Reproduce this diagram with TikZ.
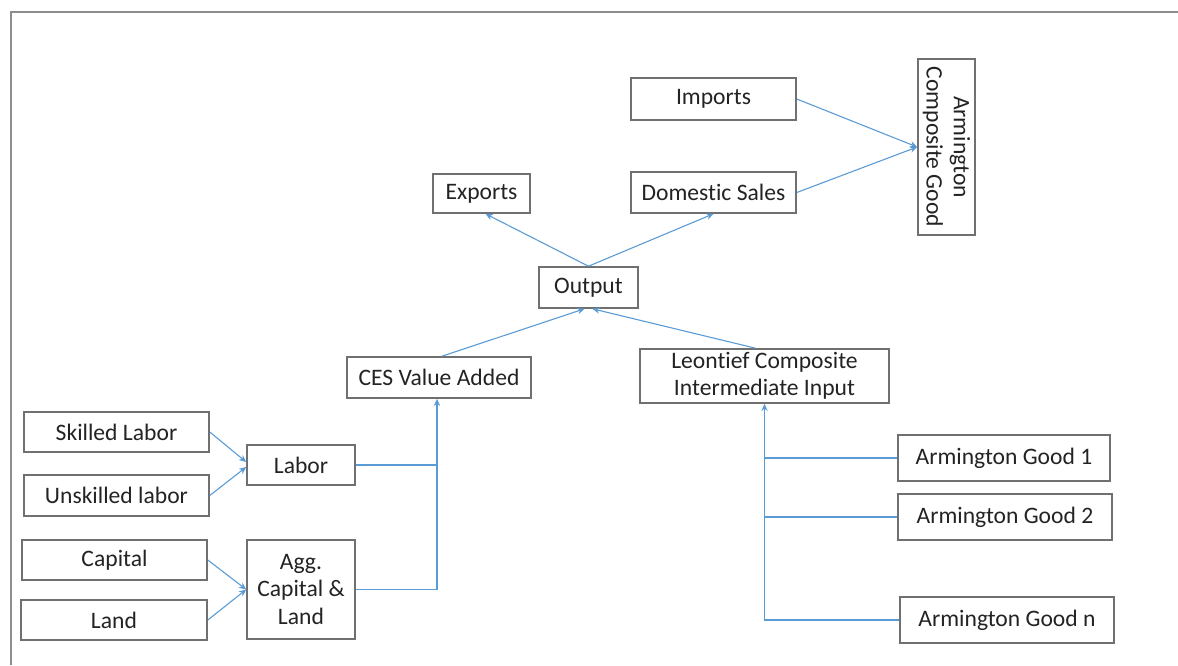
\documentclass[tikz,border=0pt]{standalone}
\usepackage{fontspec}
\setmainfont[Ligatures={NoCommon,NoRare}]{Carlito}
\usetikzlibrary{arrows.meta}
\definecolor{conn}{RGB}{91,155,213}
\definecolor{boxline}{RGB}{112,112,112}
\definecolor{txt}{RGB}{35,35,35}
\tikzset{
  box/.style={draw=boxline, line width=0.8pt, rectangle, inner sep=0pt, align=center,
    text=txt, font=\fontsize{11.8}{13.6}\selectfont},
  conn/.style={draw=conn, line width=0.55pt},
  arr/.style={conn, -{Stealth[length=3.6pt,width=3.2pt]}},
}
\begin{document}
\begin{tikzpicture}[x=0.5pt,y=-0.5pt]
\useasboundingbox (0,0) rectangle (1178,665);
\draw[draw=boxline!80, line width=1pt] (1178,12) -- (11,12) -- (11,665);

\node[box, minimum width=82.5pt, minimum height=21pt] (imp) at (713.5,99) {Imports};
\node[box, minimum width=82.5pt, minimum height=20.5pt] (dom) at (713.5,192.5) {Domestic Sales};
\node[box, minimum width=28.5pt, minimum height=88pt] (arm) at (946.5,147) {};
\node[rotate=-90, text=txt, align=center, font=\fontsize{11.8}{13.6}\selectfont] (armt) at (arm.center) {Armington\\Composite Good};
\node[box, minimum width=48.5pt, minimum height=19.5pt] (exp) at (481.5,193.5) {Exports};
\node[box, minimum width=49.5pt, minimum height=20.5pt] (out) at (588.5,287.5) {Output};
\node[box, minimum width=92pt, minimum height=20.5pt] (ces) at (439,377.5) {CES Value Added};
\node[box, minimum width=124.5pt, minimum height=27pt] (leo) at (764.5,376) {Leont\hbox{}ief Composite\\Intermediate Input};
\node[box, minimum width=92.5pt, minimum height=20pt] (sk) at (116.5,432) {Skilled Labor};
\node[box, minimum width=92.5pt, minimum height=20.5pt] (un) at (116.5,495.5) {Unskilled labor};
\node[box, minimum width=54pt, minimum height=20pt] (lab) at (301,465) {Labor};
\node[box, minimum width=92.5pt, minimum height=20pt] (cap) at (114.5,560) {Capital};
\node[box, minimum width=93pt, minimum height=20pt] (land) at (114,620) {Land};
\node[box, minimum width=54pt, minimum height=49.5pt] (agg) at (301,589.5) {Agg.\\Capital \&\\Land};
\node[box, minimum width=106pt, minimum height=23pt] (g1) at (1004,458) {Armington Good 1};
\node[box, minimum width=107pt, minimum height=23pt] (g2) at (1005,517) {Armington Good 2};
\node[box, minimum width=107pt, minimum height=23pt] (gn) at (1007,620) {Armington Good n};

% Armington composite
\draw[arr] (imp.east) -- (arm.west);
\draw[arr] (dom.east) -- (arm.west);
% Output split
\draw[arr] (out.north) -- ([xshift=2pt]exp.south);
\draw[arr] (out.north) -- (dom.south);
% Into output
\draw[arr] ([xshift=1.5pt]ces.north) -- ([xshift=-2pt]out.south);
\draw[arr] ([xshift=-4.5pt]leo.north) -- ([xshift=2pt]out.south);
% Labor
\draw[arr] (sk.east) -- ([yshift=1.5pt]lab.west);
\draw[arr] (un.east) -- ([yshift=-1pt]lab.west);
% Capital & land
\draw[arr] (cap.east) -- (agg.west);
\draw[arr] (land.east) -- (agg.west);
% Value added
\coordinate (vx) at ([xshift=-1pt]ces.south);
\draw[conn] (lab.east) -- (lab.east -| vx);
\draw[arr] (agg.east) -| (vx);
% Intermediate
\draw[conn] (g1.west) -- (g1.west -| leo.south);
\draw[conn] (g2.west) -- (g2.west -| leo.south);
\draw[arr] (gn.west) -| (leo.south);
\end{tikzpicture}
\end{document}
